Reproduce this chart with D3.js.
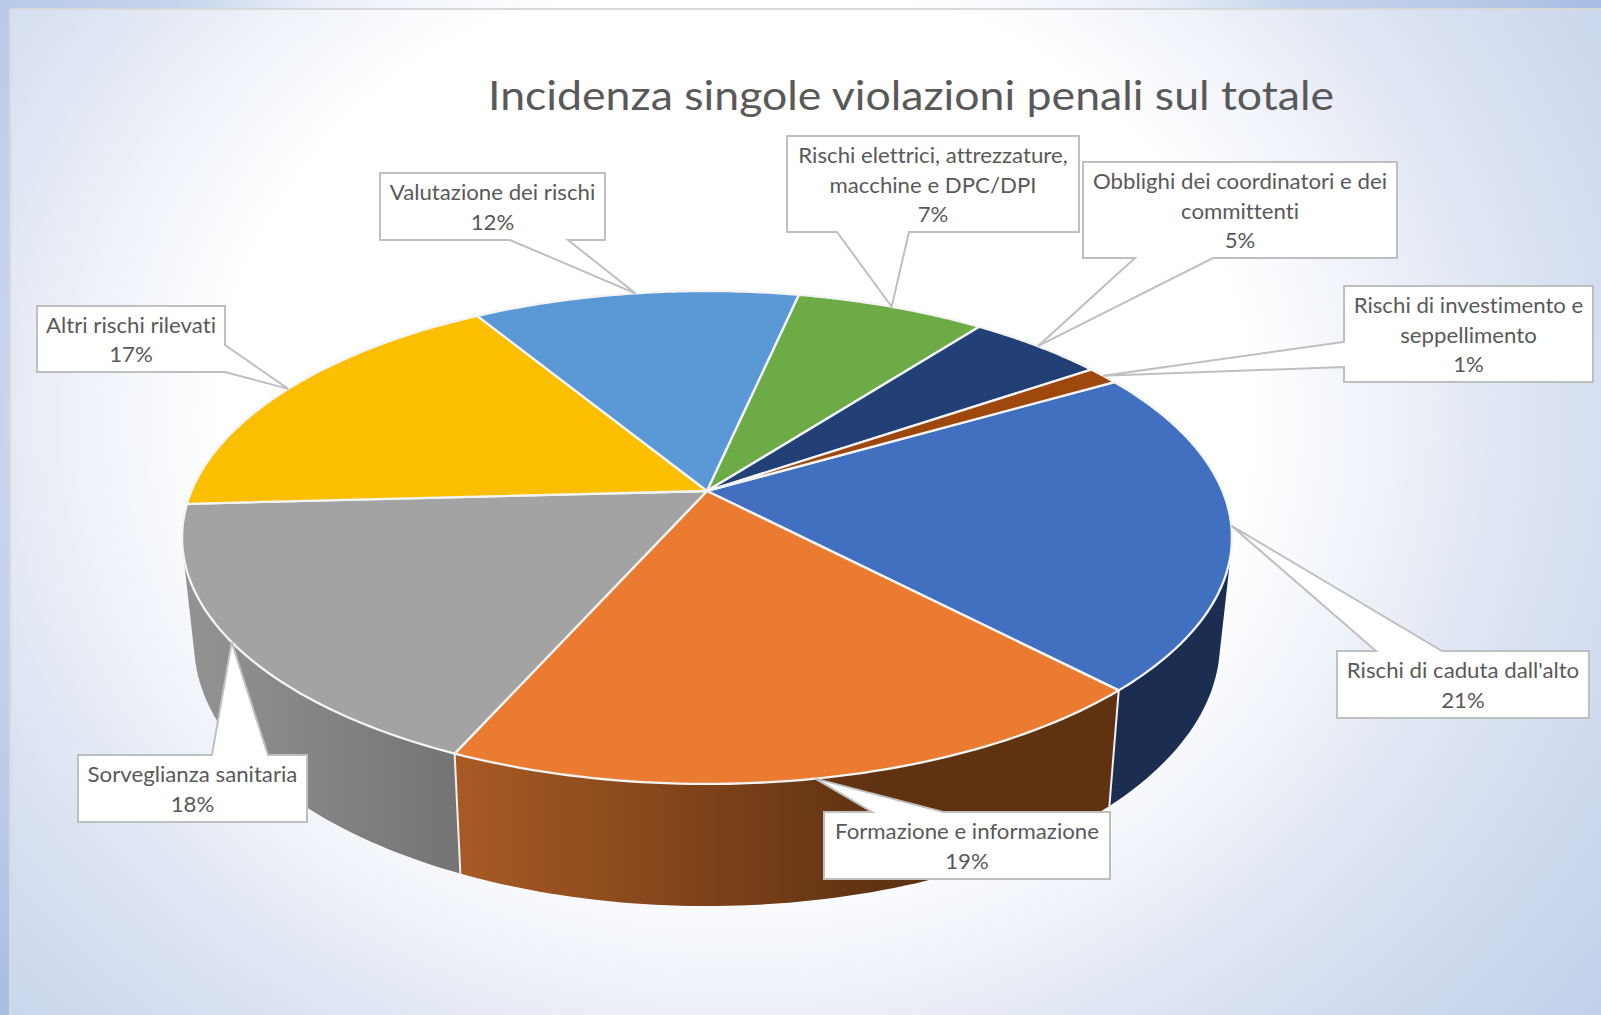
<!DOCTYPE html>
<html><head><meta charset="utf-8">
<script src="https://cdn.jsdelivr.net/npm/d3@7"></script>
<style>html,body{margin:0;padding:0;background:#fff;overflow:hidden}svg{display:block}text{font-family:Lato,"Open Sans",sans-serif;fill:#595959;font-variant-ligatures:none}</style>
</head><body><svg id="c" width="1601" height="1015"></svg>
<script>
// ---- data ----
const titleText = "Incidenza singole violazioni penali sul totale";
const categories = ["Rischi di caduta dall'alto","Formazione e informazione","Sorveglianza sanitaria","Altri rischi rilevati","Valutazione dei rischi","Rischi elettrici, attrezzature, macchine e DPC/DPI","Obblighi dei coordinatori e dei committenti","Rischi di investimento e seppellimento"];
const values = [21.25,18.75,17.51,17.19,12.05,7.0,5.05,1.2];
const labelLines = [["Rischi di caduta dall'alto"],["Formazione e informazione"],["Sorveglianza sanitaria"],["Altri rischi rilevati"],["Valutazione dei rischi"],["Rischi elettrici, attrezzature,","macchine e DPC/DPI"],["Obblighi dei coordinatori e dei","committenti"],["Rischi di investimento e","seppellimento"]];
// ---- styles ----
const topColors = ["#4270c1","#eb7b30","#a3a3a3","#fbbf00","#5a99d6","#6dab46","#234076","#9e480e"];
const wallStops = [["#1b2d50","#1b2d50"],["#a85a24","#5f3212"],["#939393","#747474"],["#99730a","#99730a"],["#375d80","#375d80"],["#43682b","#43682b"],["#172948","#172948"],["#5f2b08","#5f2b08"]];
const wallGradX = [[1000,1230],[459,880],[185,459],[180,480],[480,800],[800,980],[980,1090],[1090,1115]];
const wallOrder = [7,6,5,4,3,0,2,1];
// callout boxes: x0,y0,x1,y1, side of pointer, base a, base b
const boxes = [
 [1337,651,1589,718,"top",1376,1442],
 [824,812,1110,879,"top",872,943],
 [78,755,307,822,"top",212,268],
 [37,306,225,372,"right",345,372],
 [380,173,605,240,"bottom",510,568],
 [787,136,1079,232,"bottom",837,909],
 [1083,162,1397,258,"bottom",1135,1213],
 [1344,286,1593,382,"left",342,367]];
// ---- geometry ----
const W=1601,H=1015, k=0.1886, startDeg=59.9;
const topPlane={a:515.5,b:237.7,x0:707,y0:491};
const botPlane={a:503.8,b:254,x0:707,y0:593};
const project=(p,t)=>{const u=Math.sin(t),v=-Math.cos(t),w=1-k*v;return [p.x0+p.a*u/w,p.y0+p.b*v/w];};
const svg=d3.select("#c"), defs=svg.append("defs");
const line=d3.line();
function radial(id,stops){
  const g=defs.append("radialGradient").attr("id",id).attr("gradientUnits","userSpaceOnUse")
    .attr("cx",0).attr("cy",0).attr("r",1).attr("gradientTransform","translate(735,420) scale(1120,980)");
  stops.forEach(s=>g.append("stop").attr("offset",s[0]).attr("stop-color",s[1]));
}
radial("outer",[[0,"#fff"],[0.45,"#fff"],[0.57,"#e8eef8"],[0.654,"#c6d4ec"],[0.77,"#b9cbe8"],[0.87,"#a9bee4"],[1,"#a0b6e0"]]);
radial("inner",[[0,"#fff"],[0.46,"#fff"],[0.72,"#dbe3f2"],[1,"#bfcee9"]]);
svg.append("rect").attr("width",W).attr("height",H).attr("fill","url(#outer)");
svg.append("rect").attr("x",10).attr("y",9).attr("width",W).attr("height",H).attr("fill","url(#inner)").attr("stroke","#d9d9d9").attr("stroke-width",2);

const pie=d3.pie().sort(null).startAngle(startDeg*Math.PI/180).endAngle((startDeg+360)*Math.PI/180);
const arcs=pie(values);
const sampled=d=>d3.range(0,61).map(i=>d.startAngle+(d.endAngle-d.startAngle)*i/60);

// walls: hull of rim arcs gives the cylinder's tangent silhouette; the inner side is hidden by the top faces
arcs.forEach((d,i)=>{
  const g=defs.append("linearGradient").attr("id","w"+i).attr("gradientUnits","userSpaceOnUse")
    .attr("x1",wallGradX[i][0]).attr("x2",wallGradX[i][1]).attr("y1",0).attr("y2",0);
  g.append("stop").attr("offset",0).attr("stop-color",wallStops[i][0]);
  g.append("stop").attr("offset",1).attr("stop-color",wallStops[i][1]);
});
const walls=svg.append("g");
wallOrder.forEach(i=>{
  const ts=sampled(arcs[i]);
  const hull=d3.polygonHull(ts.map(t=>project(topPlane,t)).concat(ts.map(t=>project(botPlane,t))));
  walls.append("path").attr("d",line(hull)+"Z").attr("fill",`url(#w${i})`);
});
[arcs[1].startAngle,arcs[1].endAngle].forEach(t=>{
  walls.append("path").attr("d",line([project(topPlane,t),project(botPlane,t)])).attr("stroke","#f0f0f0").attr("stroke-width",2).attr("fill","none");
});
// top faces
const faces=svg.append("g");
arcs.forEach((d,i)=>{
  const pts=[[topPlane.x0,topPlane.y0]].concat(sampled(d).map(t=>project(topPlane,t)));
  faces.append("path").attr("d",line(pts)+"Z").attr("fill",topColors[i]).attr("stroke","#f4f4f4").attr("stroke-width",2.3).attr("stroke-linejoin","round");
});

// title
svg.append("text").attr("x",911).attr("y",109.5).attr("text-anchor","middle").attr("font-size",41)
  .attr("textLength",846).attr("lengthAdjust","spacingAndGlyphs").text(titleText);

// callouts
const fmt=d3.format(".0f"), total=d3.sum(values), labels=svg.append("g");
arcs.forEach((d,i)=>{
  const [x0,y0,x1,y1,side,a,b]=boxes[i];
  const tip=project(topPlane,(d.startAngle+d.endAngle)/2);
  let pts;
  if(side==="top") pts=[[x0,y0],[a,y0],tip,[b,y0],[x1,y0],[x1,y1],[x0,y1]];
  if(side==="bottom") pts=[[x0,y0],[x1,y0],[x1,y1],[b,y1],tip,[a,y1],[x0,y1]];
  if(side==="left") pts=[[x0,y0],[x1,y0],[x1,y1],[x0,y1],[x0,b],tip,[x0,a]];
  if(side==="right") pts=[[x0,y0],[x1,y0],[x1,a],tip,[x1,b],[x1,y1],[x0,y1]];
  labels.append("path").attr("d",line(pts)+"Z").attr("fill","#fff").attr("stroke","#bfbfbf").attr("stroke-width",2);
  const lines=labelLines[i].concat([fmt(d.value/total*100)+"%"]);
  const cx=(x0+x1)/2, first=(y0+y1)/2-(lines.length-1)*14.9+8.5;
  lines.forEach((s,j)=>{
    labels.append("text").attr("transform",`translate(${cx},${first+j*29.8}) scale(1.01,1)`).attr("text-anchor","middle").attr("font-size",22).text(s);
  });
});
</script></body></html>
